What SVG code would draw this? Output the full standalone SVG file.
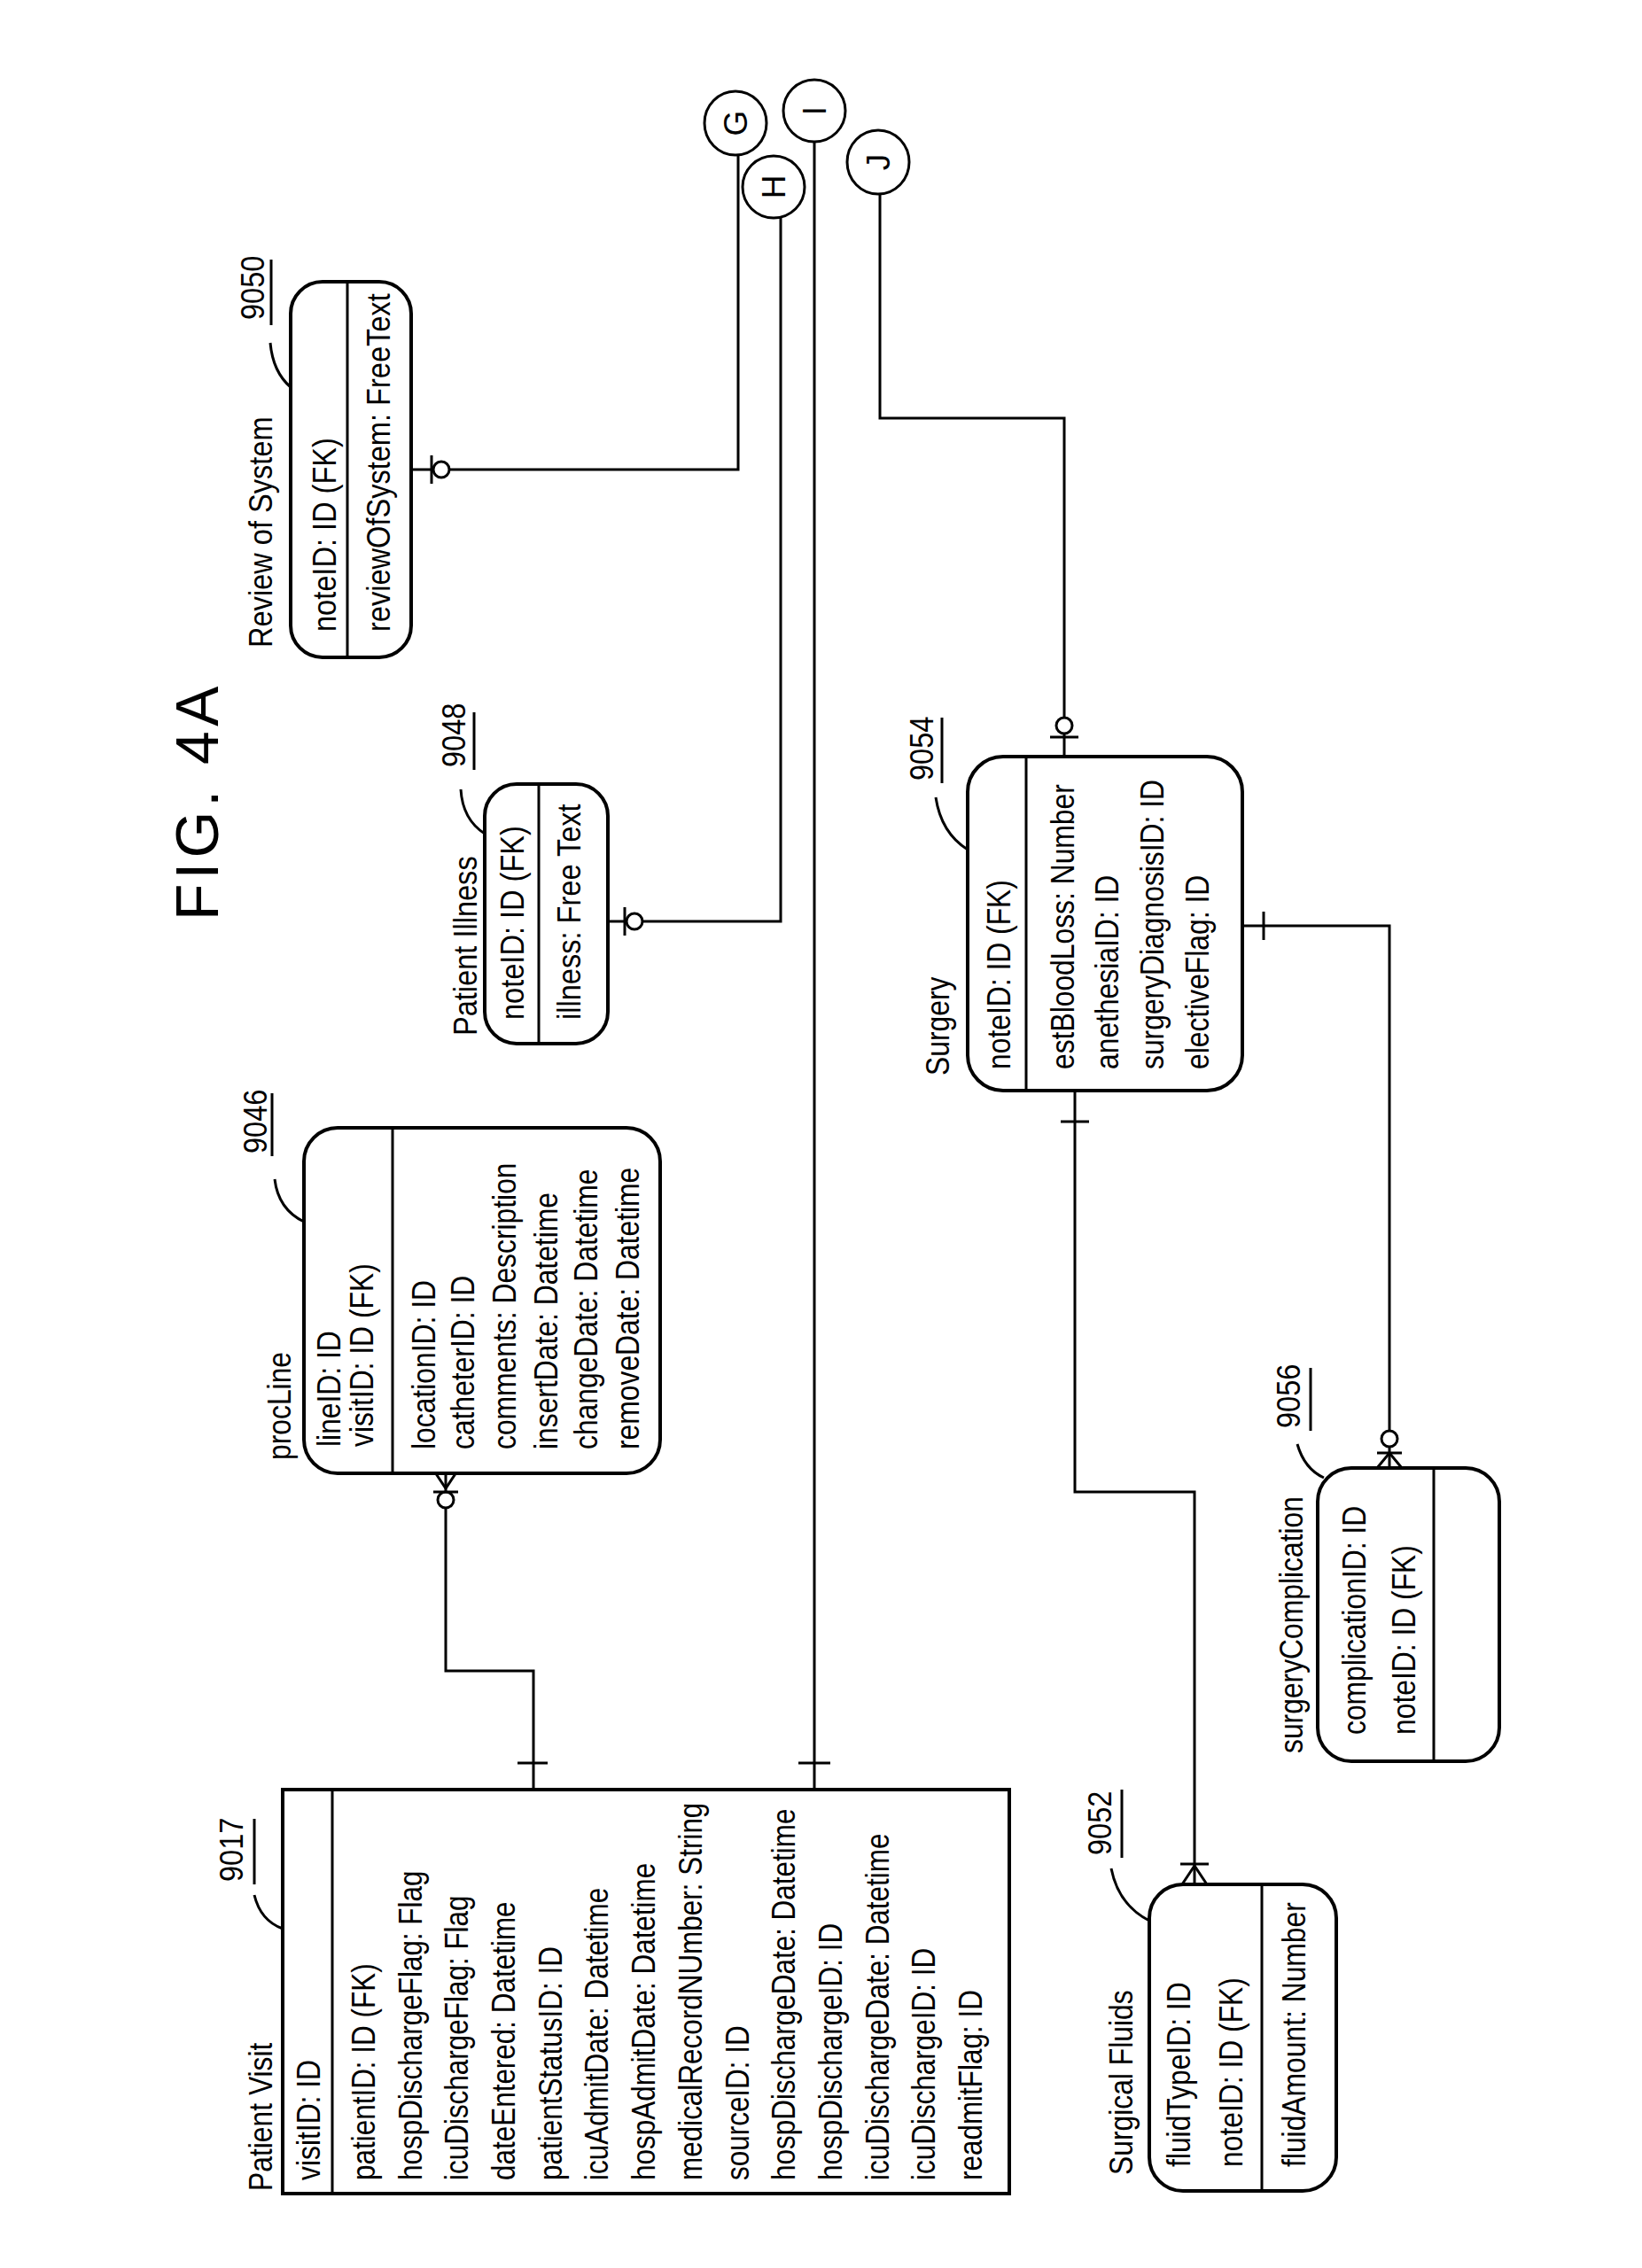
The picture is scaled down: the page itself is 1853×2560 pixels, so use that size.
<svg xmlns="http://www.w3.org/2000/svg" width="1853" height="2560" viewBox="0 0 1853 2560">
<style>
text{font-family:"Liberation Sans",Arial,sans-serif;font-size:37px;fill:#000}
.box{fill:none;stroke:#000;stroke-width:4}
.ln{fill:none;stroke:#000;stroke-width:3}
.fig{font-size:68px;letter-spacing:5px}
.c{fill:#fff;stroke:#000;stroke-width:3}
</style>
<rect width="1853" height="2560" fill="#fff"/>
<text class="fig" transform="translate(246,1039) rotate(-90)">FIG. 4A</text>

<g id="connectors">
<path class="ln" d="M833,174 V530 H464"/>
<circle class="c" cx="498" cy="530" r="9"/><path class="ln" d="M487,514 V546"/>
<path class="ln" d="M881,245 V1040 H686"/>
<circle class="c" cx="716" cy="1040" r="9"/><path class="ln" d="M705,1024 V1056"/>
<path class="ln" d="M919,160 V2020"/><path class="ln" d="M901,1990 H937"/>
<path class="ln" d="M993,219 V472 H1201 V854"/>
<circle class="c" cx="1201" cy="819" r="9"/><path class="ln" d="M1185,832 H1217"/>
<path class="ln" d="M503,1662 V1886 H602 V2020"/>
<path class="ln" d="M491,1662 L503,1680 L515,1662"/>
<circle class="c" cx="503" cy="1693" r="9"/><path class="ln" d="M489,1684 H517"/>
<path class="ln" d="M584,1990 H618"/>
<path class="ln" d="M1402,1045 H1568 V1657"/><path class="ln" d="M1426,1029 V1061"/>
<circle class="c" cx="1568" cy="1624" r="9"/><path class="ln" d="M1554,1640 H1582"/>
<path class="ln" d="M1554,1657 L1568,1640 L1582,1657"/>
<path class="ln" d="M1213,1231 V1684 H1348 V2127"/><path class="ln" d="M1197,1266 H1229"/>
<path class="ln" d="M1332,2104 H1364"/><path class="ln" d="M1334,2127 L1348,2106 L1362,2127"/>
</g>

<g id="G"><ellipse class="c" cx="830" cy="139" rx="35" ry="36"/><text transform="translate(843,139) rotate(-90)" text-anchor="middle" font-size="36">G</text></g>
<g id="H"><ellipse class="c" cx="873" cy="211" rx="35" ry="35"/><text transform="translate(886,211) rotate(-90)" text-anchor="middle" font-size="36">H</text></g>
<g id="I"><ellipse class="c" cx="919" cy="125" rx="35" ry="35"/><text transform="translate(932,125) rotate(-90)" text-anchor="middle" font-size="36">I</text></g>
<g id="J"><ellipse class="c" cx="991" cy="183" rx="35" ry="36"/><text transform="translate(1004,183) rotate(-90)" text-anchor="middle" font-size="36">J</text></g>

<g id="reviewOfSystem">
<rect class="box" x="328" y="318" width="136" height="424" rx="36"/>
<path class="ln" d="M392,318 V742"/>
<text transform="translate(307,731) rotate(-90) scale(0.88,1)">Review of System</text>
<text transform="translate(379,713) rotate(-90) scale(0.88,1)">noteID: ID (FK)</text>
<text transform="translate(440,713) rotate(-90) scale(0.88,1)">reviewOfSystem: FreeText</text>
<text transform="translate(298,361) rotate(-90) scale(0.88,1)">9050</text>
<path class="ln" d="M306,293 V367"/>
<path class="ln" d="M305,387 Q308,420 328,437"/>
</g>

<g id="patientIllness">
<rect class="box" x="547" y="885" width="139" height="293" rx="36"/>
<path class="ln" d="M608,885 V1178"/>
<text transform="translate(538,1169) rotate(-90) scale(0.88,1)">Patient Illness</text>
<text transform="translate(591,1151) rotate(-90) scale(0.88,1)">noteID: ID (FK)</text>
<text transform="translate(655,1151) rotate(-90) scale(0.88,1)">illness: Free Text</text>
<text transform="translate(525,866) rotate(-90) scale(0.88,1)">9048</text>
<path class="ln" d="M535,804 V869"/>
<path class="ln" d="M520,891 Q522,925 547,941"/>
</g>

<g id="procLine">
<rect class="box" x="343" y="1273" width="402" height="390" rx="38"/>
<path class="ln" d="M443,1273 V1663"/>
<text transform="translate(328,1648) rotate(-90) scale(0.86,1)">procLine</text>
<text transform="translate(384,1633) rotate(-90) scale(0.86,1)">lineID: ID</text>
<text transform="translate(421,1633) rotate(-90) scale(0.86,1)">visitID: ID (FK)</text>
<text transform="translate(491,1636) rotate(-90) scale(0.86,1)">locationID: ID</text>
<text transform="translate(535,1636) rotate(-90) scale(0.86,1)">catheterID: ID</text>
<text transform="translate(582,1636) rotate(-90) scale(0.86,1)">comments: Description</text>
<text transform="translate(629,1636) rotate(-90) scale(0.86,1)">insertDate: Datetime</text>
<text transform="translate(674,1636) rotate(-90) scale(0.86,1)">changeDate: Datetime</text>
<text transform="translate(721,1636) rotate(-90) scale(0.86,1)">removeDate: Datetime</text>
<text transform="translate(301,1302) rotate(-90) scale(0.88,1)">9046</text>
<path class="ln" d="M307,1234 V1305"/>
<path class="ln" d="M310,1331 Q314,1365 343,1379"/>
</g>

<g id="patientVisit">
<rect class="box" x="319" y="2020" width="820" height="456"/>
<path class="ln" d="M375,2020 V2476"/>
<text transform="translate(307,2473) rotate(-90) scale(0.86,1)">Patient Visit</text>
<text transform="translate(361,2461) rotate(-90) scale(0.86,1)">visitID: ID</text>
<g transform="translate(0,2461)">
<text transform="translate(423,0) rotate(-90) scale(0.85,1)">patientID: ID (FK)</text>
<text transform="translate(476,0) rotate(-90) scale(0.85,1)">hospDischargeFlag: Flag</text>
<text transform="translate(528,0) rotate(-90) scale(0.85,1)">icuDischargeFlag: Flag</text>
<text transform="translate(581,0) rotate(-90) scale(0.85,1)">dateEntered: Datetime</text>
<text transform="translate(634,0) rotate(-90) scale(0.85,1)">patientStatusID: ID</text>
<text transform="translate(686,0) rotate(-90) scale(0.85,1)">icuAdmitDate: Datetime</text>
<text transform="translate(739,0) rotate(-90) scale(0.85,1)">hospAdmitDate: Datetime</text>
<text transform="translate(792,0) rotate(-90) scale(0.85,1)">medicalRecordNUmber: String</text>
<text transform="translate(845,0) rotate(-90) scale(0.85,1)">sourceID: ID</text>
<text transform="translate(897,0) rotate(-90) scale(0.85,1)">hospDischargeDate: Datetime</text>
<text transform="translate(950,0) rotate(-90) scale(0.85,1)">hospDischargeID: ID</text>
<text transform="translate(1003,0) rotate(-90) scale(0.85,1)">icuDischargeDate: Datetime</text>
<text transform="translate(1055,0) rotate(-90) scale(0.85,1)">icuDischargeID: ID</text>
<text transform="translate(1108,0) rotate(-90) scale(0.85,1)">readmitFlag: ID</text>
</g>
<text transform="translate(274,2124) rotate(-90) scale(0.88,1)">9017</text>
<path class="ln" d="M287,2053 V2127"/>
<path class="ln" d="M287,2139 Q294,2168 319,2177"/>
</g>

<g id="surgery">
<rect class="box" x="1092" y="854" width="310" height="377" rx="40"/>
<path class="ln" d="M1158,854 V1231"/>
<text transform="translate(1071,1214) rotate(-90) scale(0.86,1)">Surgery</text>
<text transform="translate(1140,1207) rotate(-90) scale(0.86,1)">noteID: ID (FK)</text>
<text transform="translate(1212,1207) rotate(-90) scale(0.86,1)">estBloodLoss: Number</text>
<text transform="translate(1262,1207) rotate(-90) scale(0.86,1)">anethesiaID: ID</text>
<text transform="translate(1313,1207) rotate(-90) scale(0.86,1)">surgeryDiagnosisID: ID</text>
<text transform="translate(1364,1207) rotate(-90) scale(0.86,1)">electiveFlag: ID</text>
<text transform="translate(1053,881) rotate(-90) scale(0.88,1)">9054</text>
<path class="ln" d="M1063,810 V884"/>
<path class="ln" d="M1056,900 Q1062,940 1092,959"/>
</g>

<g id="surgeryComplication">
<rect class="box" x="1487" y="1657" width="205" height="331" rx="38"/>
<path class="ln" d="M1618,1657 V1988"/>
<text transform="translate(1470,1979) rotate(-90) scale(0.86,1)">surgeryComplication</text>
<text transform="translate(1541,1958) rotate(-90) scale(0.86,1)">complicationID: ID</text>
<text transform="translate(1597,1958) rotate(-90) scale(0.86,1)">noteID: ID (FK)</text>
<text transform="translate(1467,1612) rotate(-90) scale(0.88,1)">9056</text>
<path class="ln" d="M1479,1544 V1615"/>
<path class="ln" d="M1464,1630 Q1472,1658 1494,1668"/>
</g>

<g id="surgicalFluids">
<rect class="box" x="1297" y="2127" width="211" height="346" rx="38"/>
<path class="ln" d="M1424,2127 V2473"/>
<text transform="translate(1278,2455) rotate(-90) scale(0.86,1)">Surgical Fluids</text>
<text transform="translate(1343,2446) rotate(-90) scale(0.86,1)">fluidTypeID: ID</text>
<text transform="translate(1402,2446) rotate(-90) scale(0.86,1)">noteID: ID (FK)</text>
<text transform="translate(1473,2446) rotate(-90) scale(0.86,1)">fluidAmount: Number</text>
<text transform="translate(1254,2094) rotate(-90) scale(0.88,1)">9052</text>
<path class="ln" d="M1266,2020 V2097"/>
<path class="ln" d="M1254,2109 Q1262,2150 1297,2168"/>
</g>
</svg>
